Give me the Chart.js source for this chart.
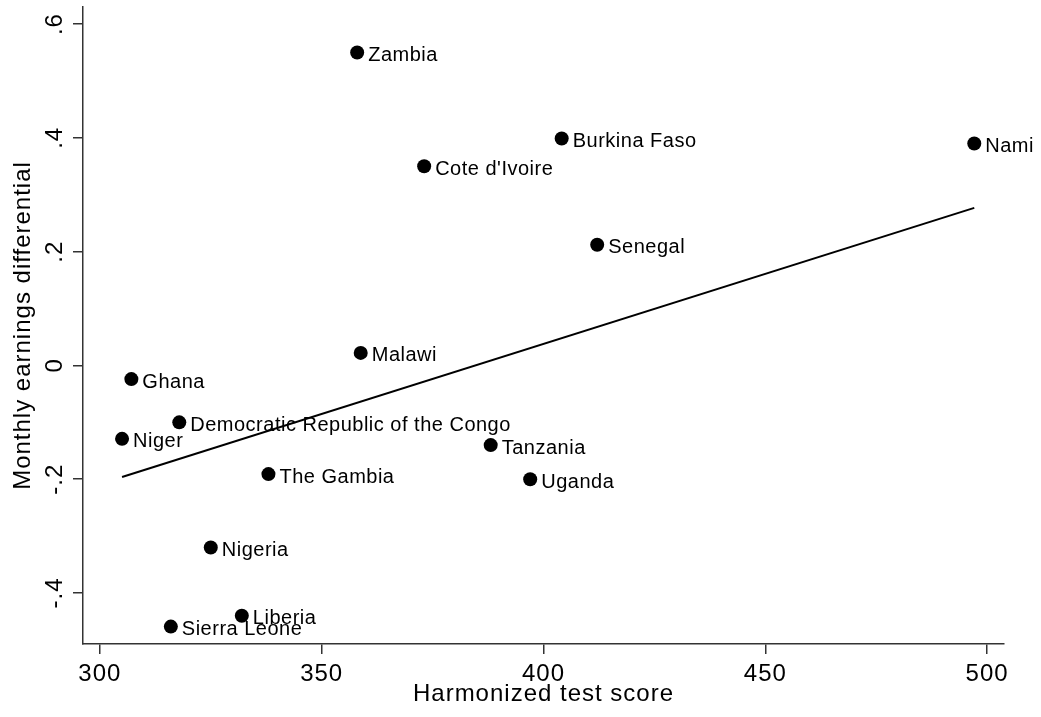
<!DOCTYPE html>
<html>
<head>
<meta charset="utf-8">
<title>Monthly earnings differential by test score</title>
<script src="https://cdn.jsdelivr.net/npm/chart.js@4.4.1/dist/chart.umd.min.js"></script>
<style>
  html, body { margin: 0; padding: 0; background: #fff; }
  canvas { display: block; }
</style>
</head>
<body>
<canvas id="scatterChart" width="1041" height="717"></canvas>
<script>
const countries = ['Zambia', 'Burkina Faso', 'Namibia', "Cote d'Ivoire", 'Senegal', 'Malawi', 'Ghana',
  'Democratic Republic of the Congo', 'Niger', 'Tanzania', 'The Gambia', 'Uganda', 'Nigeria', 'Liberia', 'Sierra Leone'];
const testScores = [358.0, 404.1, 497.1, 373.1, 412.1, 358.8, 307.1, 317.9, 305.0, 388.1, 338.0, 397.0, 325.0, 332.0, 316.0];
const earningsDiff = [0.550, 0.399, 0.390, 0.350, 0.212, 0.022, -0.024, -0.100, -0.129, -0.140, -0.191, -0.200, -0.320, -0.440, -0.459];

// fitted line, ends at the lowest and highest score
const fitScores = [305.0, 497.1];
const fitDiff = [-0.196, 0.277];

const xTicks = [300, 350, 400, 450, 500];
const yTicks = [-0.4, -0.2, 0, 0.2, 0.4, 0.6];
const yTickLabels = ['-.4', '-.2', '0', '.2', '.4', '.6'];

const FONT = '"Liberation Sans", Arial, Helvetica, sans-serif';
Chart.defaults.font.family = FONT;
Chart.defaults.color = '#000';

// a touch of extra tracking on the axis text
const tracking = {
    id: 'tracking',
    beforeDraw(chart) {
        chart.ctx.letterSpacing = '1px';
    }
};

// country name to the right of each marker
const countryLabels = {
    id: 'countryLabels',
    afterDatasetDraw(chart, args) {
        if (args.index !== 1) return;
        const ctx = chart.ctx;
        ctx.save();
        ctx.beginPath();
        ctx.rect(0, 0, chart.width - 7, chart.height);
        ctx.clip();
        ctx.letterSpacing = '0.5px';
        ctx.font = '20px ' + FONT;
        ctx.fillStyle = '#000';
        ctx.textAlign = 'left';
        ctx.textBaseline = 'alphabetic';
        args.meta.data.forEach((pt, i) => {
            ctx.fillText(countries[i], pt.x + 11, pt.y + 8.5);
        });
        ctx.restore();
    }
};

// vertical tick labels on the y axis
const yTickText = {
    id: 'yTickText',
    afterDraw(chart) {
        const { ctx, scales: { y } } = chart;
        ctx.save();
        ctx.font = '24px ' + FONT;
        ctx.fillStyle = '#000';
        ctx.textAlign = 'center';
        ctx.textBaseline = 'alphabetic';
        yTicks.forEach((v, i) => {
            ctx.save();
            ctx.translate(y.right - 21, y.getPixelForValue(v));
            ctx.rotate(-Math.PI / 2);
            ctx.fillText(yTickLabels[i], 0, 0);
            ctx.restore();
        });
        ctx.restore();
    }
};

const ctx = document.getElementById('scatterChart').getContext('2d');
new Chart(ctx, {
    type: 'scatter',
    data: {
        datasets: [
            {
                type: 'line',
                label: 'Fitted values',
                data: fitScores.map((x, i) => ({ x, y: fitDiff[i] })),
                borderColor: '#000',
                borderWidth: 2,
                pointRadius: 0,
                fill: false
            },
            {
                label: 'Countries',
                data: testScores.map((x, i) => ({ x, y: earningsDiff[i] })),
                backgroundColor: '#000',
                borderColor: '#000',
                borderWidth: 0,
                pointRadius: 7
            }
        ]
    },
    options: {
        responsive: false,
        animation: false,
        layout: { padding: { top: 7, right: 37, left: 0, bottom: 0 } },
        plugins: {
            legend: { display: false },
            tooltip: { enabled: false }
        },
        scales: {
            x: {
                type: 'linear',
                min: 296.2,
                max: 503.8,
                afterBuildTicks: s => { s.ticks = xTicks.map(v => ({ value: v })); },
                afterFit: s => { s.height = 73; },
                grid: { drawOnChartArea: false, drawTicks: true, tickLength: 10, color: '#333', tickColor: '#333', lineWidth: 1.5 },
                border: { color: '#333', width: 1.5 },
                ticks: { font: { size: 24 }, padding: 6, maxRotation: 0, callback: v => String(v) },
                title: {
                    display: true,
                    text: 'Harmonized test score',
                    font: { size: 24 },
                    padding: { top: 0, bottom: 8 }
                }
            },
            y: {
                type: 'linear',
                min: -0.4896,
                max: 0.630,
                afterBuildTicks: s => { s.ticks = yTicks.map(v => ({ value: v })); },
                afterFit: s => { s.width = 83; },
                grid: { drawOnChartArea: false, drawTicks: true, tickLength: 10, color: '#333', tickColor: '#333', lineWidth: 1.5 },
                border: { color: '#333', width: 1.5 },
                ticks: { display: false },
                title: {
                    display: true,
                    text: 'Monthly earnings differential',
                    font: { size: 24 },
                    padding: { top: 9, bottom: 0 }
                }
            }
        }
    },
    plugins: [tracking, countryLabels, yTickText]
});
</script>
</body>
</html>
